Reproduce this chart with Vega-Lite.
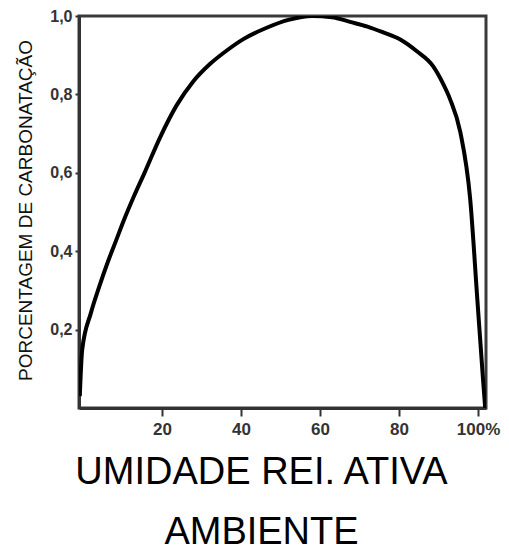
{
  "$schema": "https://vega.github.io/schema/vega-lite/v6.json",
  "width": 407,
  "height": 392,
  "autosize": {"type": "none"},
  "padding": {"left": 79, "top": 16, "right": 23, "bottom": 143},
  "background": "white",
  "config": {
    "view": {"stroke": "#3a3a3a", "strokeWidth": 3},
    "axis": {"grid": false, "labelFont": "Liberation Sans", "titleFont": "Liberation Sans"}
  },
  "data": {
    "values": [
      {"x": -0.8, "y": 0.03},
      {"x": -0.2, "y": 0.148},
      {"x": 2.0, "y": 0.242},
      {"x": 4.1, "y": 0.309},
      {"x": 6.2, "y": 0.37},
      {"x": 8.3, "y": 0.425},
      {"x": 10.4, "y": 0.48},
      {"x": 12.9, "y": 0.54},
      {"x": 15.5, "y": 0.598},
      {"x": 19.5, "y": 0.69},
      {"x": 23.7, "y": 0.772},
      {"x": 27.9, "y": 0.833},
      {"x": 32.2, "y": 0.878},
      {"x": 36.4, "y": 0.912},
      {"x": 40.6, "y": 0.941},
      {"x": 46.5, "y": 0.97},
      {"x": 52, "y": 0.99},
      {"x": 58, "y": 1.0},
      {"x": 63, "y": 0.997},
      {"x": 67.6, "y": 0.985},
      {"x": 72, "y": 0.973},
      {"x": 76, "y": 0.958},
      {"x": 80.3, "y": 0.94},
      {"x": 84.5, "y": 0.91},
      {"x": 88.6, "y": 0.872},
      {"x": 91, "y": 0.83},
      {"x": 92.9, "y": 0.788},
      {"x": 95.5, "y": 0.704},
      {"x": 98.0, "y": 0.533},
      {"x": 99.8, "y": 0.278},
      {"x": 101.3, "y": 0.066},
      {"x": 101.8, "y": 0.0}
    ]
  },
  "mark": {"type": "line", "color": "black", "strokeWidth": 4, "interpolate": "monotone", "clip": true},
  "encoding": {
    "x": {
      "field": "x",
      "type": "quantitative",
      "scale": {"domain": [-1, 102], "nice": false, "zero": false},
      "axis": {
        "values": [20, 40, 60, 80, 100],
        "labelExpr": "datum.value == 100 ? '100%' : datum.label",
        "labelFontSize": 17,
        "labelFontWeight": "bold",
        "labelColor": "#333",
        "labelPadding": 5,
        "tickSize": 8,
        "tickColor": "#333",
        "tickWidth": 2,
        "domainColor": "#333",
        "domainWidth": 3,
        "title": ["UMIDADE REI. ATIVA", "AMBIENTE"],
        "titleFontSize": 38,
        "titleFontWeight": "normal",
        "titleColor": "black",
        "titleLineHeight": 60,
        "titleAnchor": "start",
        "titleAlign": "center",
        "titleBaseline": "alphabetic",
        "titleX": 182,
        "titleY": 75
      }
    },
    "y": {
      "field": "y",
      "type": "quantitative",
      "scale": {"domain": [0, 1], "nice": false},
      "axis": {
        "values": [0.2, 0.4, 0.6, 0.8, 1.0],
        "format": ".1f",
        "labelExpr": "replace(datum.label, '.', ',')",
        "labelFontSize": 16,
        "labelFontWeight": "bold",
        "labelColor": "#333",
        "labelPadding": 3,
        "tickSize": 4,
        "tickColor": "#333",
        "tickWidth": 2,
        "domainColor": "#333",
        "domainWidth": 3,
        "title": "PORCENTAGEM DE CARBONATAÇÃO",
        "titleFontSize": 19,
        "titleFontWeight": "normal",
        "titleColor": "#111",
        "titleAngle": 270,
        "titleAnchor": "start",
        "titleAlign": "center",
        "titleBaseline": "middle",
        "titleX": -54,
        "titleY": 194
      }
    }
  }
}
